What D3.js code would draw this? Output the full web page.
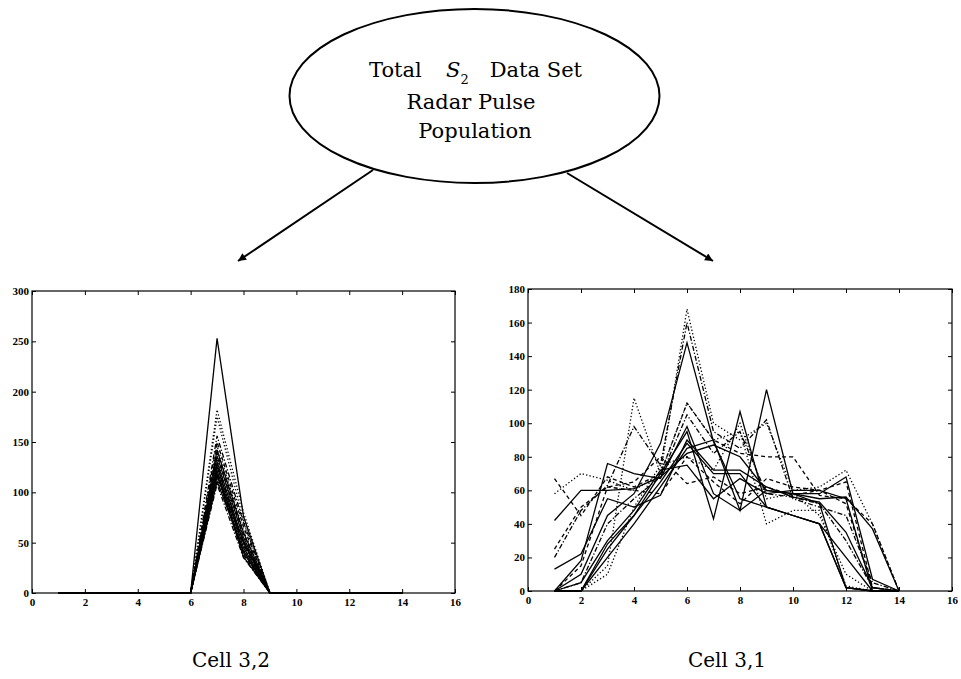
<!DOCTYPE html>
<html><head><meta charset="utf-8">
<script src="https://cdn.jsdelivr.net/npm/d3@7/dist/d3.min.js"></script>
<style>body{margin:0;background:#fff}svg{display:block}</style>
</head><body>
<script>
// ---------- data ----------
const xValues = [1,2,3,4,5,6,7,8,9,10,11,12,13,14];
const leftXTicks = [0,2,4,6,8,10,12,14,16];
const leftYTicks = [0,50,100,150,200,250,300];
const rightXTicks = [0,2,4,6,8,10,12,14,16];
const rightYTicks = [0,20,40,60,80,100,120,140,160,180];
const titleLines = ["Total", "S", "2", "Data Set", "Radar Pulse", "Population"];
const captions = ["Cell 3,2", "Cell 3,1"];

// Cell 3,2 series
const leftSeries = [
  [0,0,0,0,0,0,253,76,0,0,0,0,0,0],
  [0,0,0,0,0,0,182,80,0,0,0,0,0,0],
  [0,0,0,0,0,0,175,72,0,0,0,0,0,0],
  [0,0,0,0,0,0,156,70,0,0,0,0,0,0],
  [0,0,0,0,0,0,150,66,0,0,0,0,0,0],
  [0,0,0,0,0,0,146,62,0,0,0,0,0,0],
  [0,0,0,0,0,0,142,60,0,0,0,0,0,0],
  [0,0,0,0,0,0,139,58,0,0,0,0,0,0],
  [0,0,0,0,0,0,136,55,0,0,0,0,0,0],
  [0,0,0,0,0,0,133,52,0,0,0,0,0,0],
  [0,0,0,0,0,0,130,50,0,0,0,0,0,0],
  [0,0,0,0,0,0,128,48,0,0,0,0,0,0],
  [0,0,0,0,0,0,126,45,0,0,0,0,0,0],
  [0,0,0,0,0,0,124,43,0,0,0,0,0,0],
  [0,0,0,0,0,0,122,40,0,0,0,0,0,0],
  [0,0,0,0,0,0,120,38,0,0,0,0,0,0],
  [0,0,0,0,0,0,118,36,0,0,0,0,0,0],
  [0,0,0,0,0,0,116,52,0,0,0,0,0,0],
  [0,0,0,0,0,0,113,47,0,0,0,0,0,0],
  [0,0,0,0,0,0,111,42,0,0,0,0,0,0],
  [0,0,0,0,0,0,108,35,0,0,0,0,0,0]
];
const leftStyles = ["solid","dotted","dotted","dashdot","dashed","dotted","solid","dashed","solid","dotted",
  "solid","dashdot","solid","dotted","solid","dashed","solid","solid","dotted","solid","dashdot"];

// Cell 3,1 series
const rightSeries = [
  [42,60,60,61,68,82,87,80,60,58,58,68,7,0],
  [13,22,55,50,57,90,72,72,62,56,53,35,2,0],
  [0,18,76,70,67,98,58,48,60,58,52,2,0,0],
  [0,10,45,58,88,148,89,55,50,45,40,20,0,0],
  [0,0,25,45,70,95,43,107,50,45,40,2,0,0],
  [0,0,20,40,62,85,90,48,120,58,55,56,37,0],
  [0,0,28,45,65,88,70,70,50,45,40,2,0,0],
  [0,5,30,48,72,75,55,67,58,60,60,55,0,0],
  [58,70,66,60,70,168,100,90,100,60,62,72,40,0],
  [20,48,63,98,75,160,95,85,102,55,50,45,5,0],
  [0,0,15,115,70,112,90,95,40,48,48,3,0,0],
  [67,45,68,62,70,112,90,82,80,80,57,55,40,0],
  [25,50,62,65,80,64,68,58,62,57,60,65,2,0],
  [0,5,40,55,68,105,82,95,58,56,52,30,2,0],
  [0,0,10,50,75,80,72,100,55,58,45,10,0,0],
  [0,15,62,60,58,80,65,52,67,62,60,52,2,0]
];
const rightStyles = ["solid","solid","solid","solid","solid","solid","solid","solid",
  "dotted","dashdot","dotted","dashed","dashed","dashdot","dotted","dashed"];

// ---------- drawing ----------
const W = 961, H = 679;
const svg = d3.select("body").append("svg").attr("width", W).attr("height", H);
const dashMap = {solid:null, dotted:"1.3,2.2", dashed:"4,3", dashdot:"5,2,1.3,2"};
const serif = "'DejaVu Serif', serif";
const tickFont = "'Liberation Serif', serif";

function panel(series, styles, xTicks, yTicks, xDom, yDom, box) {
  const x = d3.scaleLinear().domain(xDom).range([box.l, box.r]);
  const y = d3.scaleLinear().domain(yDom).range([box.b, box.t]);
  const g = svg.append("g");
  const line = d3.line().x((d,i) => x(xValues[i])).y(d => y(d));
  series.forEach((s, k) => {
    g.append("path").datum(s).attr("d", line)
      .attr("fill","none").attr("stroke","#000").attr("stroke-width",1.3)
      .attr("stroke-linejoin","miter")
      .attr("stroke-dasharray", dashMap[styles[k]]);
  });
  const styleAxis = a => {
    a.select(".domain").remove();
    a.selectAll("line").attr("stroke","#000");
    a.selectAll("text").attr("font-family",tickFont).attr("font-weight","bold")
      .attr("font-size",11).attr("fill","#000");
  };
  g.append("g").attr("transform",`translate(0,${box.b})`)
    .call(d3.axisBottom(x).tickValues(xTicks).tickSize(-4).tickPadding(5).tickFormat(d3.format("d"))).call(styleAxis);
  g.append("g").attr("transform",`translate(0,${box.t})`)
    .call(d3.axisTop(x).tickValues(xTicks).tickSize(-4).tickFormat("")).call(styleAxis);
  g.append("g").attr("transform",`translate(${box.l},0)`)
    .call(d3.axisLeft(y).tickValues(yTicks).tickSize(-4).tickPadding(3).tickFormat(d3.format("d"))).call(styleAxis);
  g.append("g").attr("transform",`translate(${box.r},0)`)
    .call(d3.axisRight(y).tickValues(yTicks).tickSize(-4).tickFormat("")).call(styleAxis);
  g.append("rect").attr("x",box.l).attr("y",box.t).attr("width",box.r-box.l).attr("height",box.b-box.t)
    .attr("fill","none").attr("stroke","#000").attr("stroke-width",1.2);
}

panel(leftSeries, leftStyles, leftXTicks, leftYTicks, [0,16], [0,300], {l:32, r:455, t:291, b:593});
panel(rightSeries, rightStyles, rightXTicks, rightYTicks, [0,16], [0,180], {l:528, r:952, t:289, b:591});

// ellipse + title
svg.append("ellipse").attr("cx",474.5).attr("cy",96).attr("rx",185).attr("ry",87)
  .attr("fill","none").attr("stroke","#000").attr("stroke-width",2);
const tf = 21;
svg.append("text").attr("x",369).attr("y",77).attr("font-family",serif).attr("font-size",tf).text(titleLines[0]);
const st = svg.append("text").attr("x",446).attr("y",77).attr("font-family",serif).attr("font-size",tf);
st.append("tspan").attr("font-style","italic").text(titleLines[1]);
st.append("tspan").attr("font-size",13).attr("dx",0).attr("dy",7).text(titleLines[2]);
svg.append("text").attr("x",582).attr("y",77).attr("text-anchor","end").attr("font-family",serif).attr("font-size",tf).text(titleLines[3]);
svg.append("text").attr("x",471).attr("y",109).attr("text-anchor","middle").attr("font-family",serif).attr("font-size",tf).text(titleLines[4]);
svg.append("text").attr("x",475).attr("y",138).attr("text-anchor","middle").attr("font-family",serif).attr("font-size",tf).text(titleLines[5]);

// arrows
const defs = svg.append("defs");
defs.append("marker").attr("id","arr").attr("viewBox","0 0 10 10").attr("refX",10).attr("refY",5)
  .attr("markerWidth",11).attr("markerHeight",8).attr("markerUnits","userSpaceOnUse").attr("orient","auto")
  .append("path").attr("d","M0,0 L10,5 L0,10 Z").attr("fill","#000");
svg.append("line").attr("x1",373).attr("y1",170).attr("x2",238).attr("y2",261)
  .attr("stroke","#000").attr("stroke-width",2).attr("marker-end","url(#arr)");
svg.append("line").attr("x1",567).attr("y1",173).attr("x2",713).attr("y2",261)
  .attr("stroke","#000").attr("stroke-width",2).attr("marker-end","url(#arr)");

// captions
svg.append("text").attr("x",231).attr("y",667).attr("text-anchor","middle").attr("font-family",serif).attr("font-size",20).text(captions[0]);
svg.append("text").attr("x",727).attr("y",667).attr("text-anchor","middle").attr("font-family",serif).attr("font-size",20).text(captions[1]);
</script>
</body></html>
